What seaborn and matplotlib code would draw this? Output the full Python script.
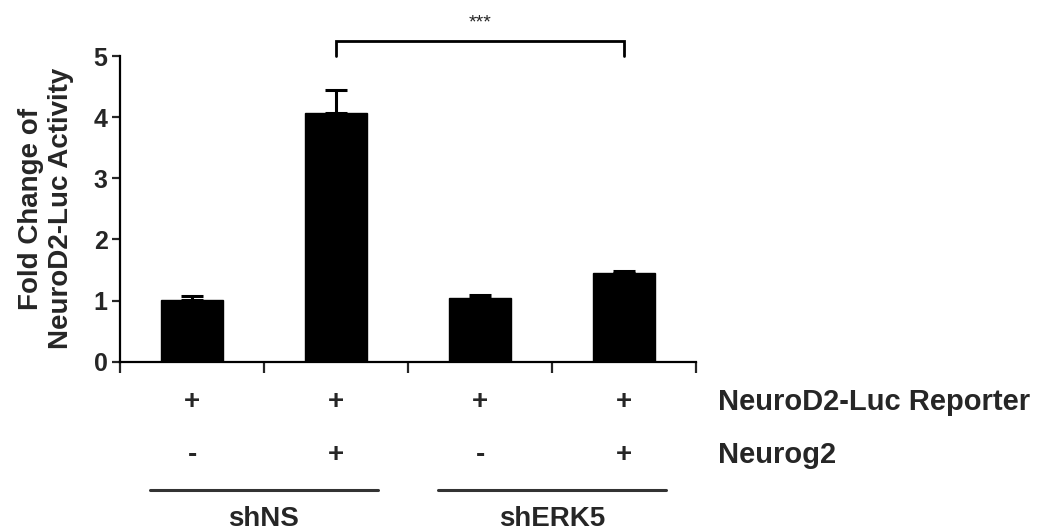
import matplotlib
matplotlib.use("Agg")
import matplotlib.pyplot as plt
import seaborn as sns
import pandas as pd
import numpy as np

# ---- data ----
conditions = ["shNS -", "shNS +", "shERK5 -", "shERK5 +"]
fold_change = [1.01, 4.07, 1.05, 1.45]
sem_upper = [0.07, 0.38, 0.04, 0.03]
reporter_row = ["+", "+", "+", "+"]
neurog2_row = ["-", "+", "-", "+"]
row_labels = ["NeuroD2-Luc Reporter", "Neurog2"]
groups = ["shNS", "shERK5"]
group_members = [[0, 1], [2, 3]]
y_ticks = [0, 1, 2, 3, 4, 5]
sig_text = "***"
sig_pair = [1, 3]
sig_level = 5.24

sns.set_style("white")
plt.rcParams["font.family"] = ["Liberation Sans", "DejaVu Sans"]
plt.rcParams["font.weight"] = "bold"

fig = plt.figure(figsize=(10.39, 5.31), dpi=100)
ax = fig.add_axes([0.1155, 0.3188, 0.5544, 0.5757])

df = pd.DataFrame({"cond": conditions, "val": fold_change})
sns.barplot(data=df, x="cond", y="val", color="black", width=0.43,
            saturation=1, ax=ax, errorbar=None)
for p in ax.patches:
    p.set_edgecolor("black")
    p.set_facecolor("black")

xpos = np.arange(len(conditions))
ax.errorbar(xpos, fold_change, yerr=[np.zeros(len(sem_upper)), sem_upper],
            fmt="none", ecolor="black", elinewidth=2.2, capsize=8, capthick=2.2)

ax.set_xlim(-0.5, 3.5)
ax.set_ylim(0, 5)
ax.set_yticks(y_ticks)
ax.set_yticklabels([str(t) for t in y_ticks], fontsize=18, fontweight="bold")
ax.set_xticks(np.arange(-0.5, 4.0, 1.0))
ax.set_xticklabels([])
ax.set_xlabel("")
ax.set_ylabel("Fold Change of\nNeuroD2-Luc Activity", fontsize=20, fontweight="bold",
              labelpad=14, linespacing=1.22)
for s in ["top", "right"]:
    ax.spines[s].set_visible(False)
for s in ["left", "bottom"]:
    ax.spines[s].set_linewidth(1.6)
    ax.spines[s].set_color("black")
ax.tick_params(axis="y", direction="out", length=6, width=1.6, left=True, pad=3)
ax.tick_params(axis="x", direction="out", length=8, width=1.6, bottom=True)

# significance bracket
x1, x2 = sig_pair
ax.plot([x1, x1, x2, x2], [5.0, sig_level, sig_level, 5.0], color="black",
        lw=2.0, clip_on=False, solid_joinstyle="miter")
ax.text((x1 + x2) / 2, 5.54, sig_text, ha="center", va="center", fontsize=14,
        fontweight="normal")

# table below
trans = ax.get_xaxis_transform()
for i in range(len(conditions)):
    ax.text(xpos[i], -0.132, reporter_row[i], transform=trans, ha="center",
            va="center", fontsize=20, fontweight="bold")
    ax.text(xpos[i], -0.305, neurog2_row[i], transform=trans, ha="center",
            va="center", fontsize=20, fontweight="bold")
ax.text(3.65, -0.132, row_labels[0], transform=trans, ha="left", va="center",
        fontsize=21, fontweight="bold")
ax.text(3.65, -0.305, row_labels[1], transform=trans, ha="left", va="center",
        fontsize=21, fontweight="bold")
for g, mem in zip(groups, group_members):
    c = (mem[0] + mem[1]) / 2
    ax.plot([c - 0.79, c + 0.79], [-0.42, -0.42], transform=trans, color="#333333",
            lw=2.2, clip_on=False)
    ax.text(c, -0.515, g, transform=trans, ha="center", va="center",
            fontsize=20, fontweight="bold")

fig.savefig("out.png", dpi=100)
